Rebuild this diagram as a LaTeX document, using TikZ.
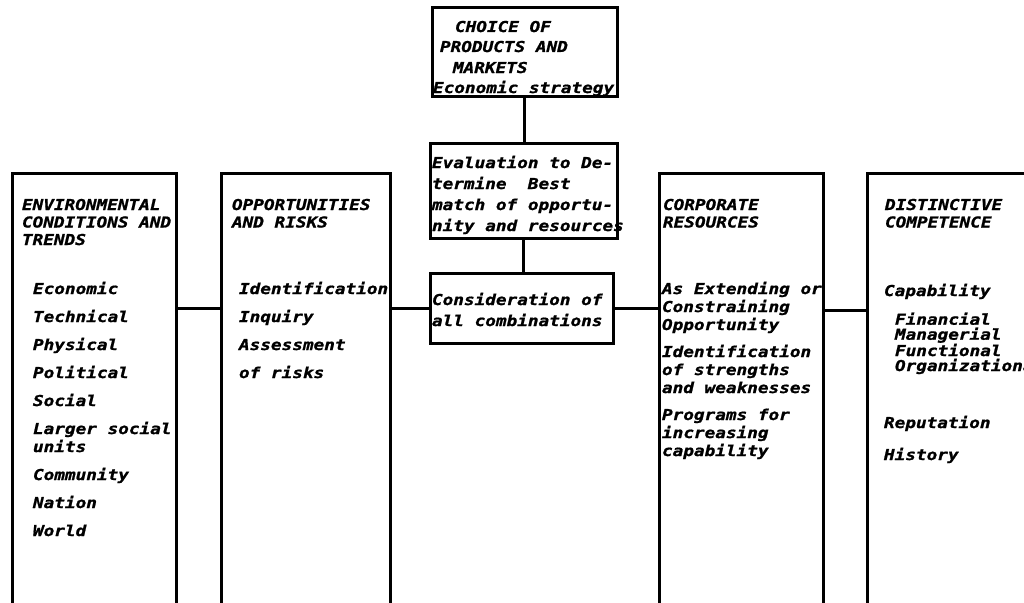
\documentclass[tikz,border=0pt]{standalone}
\usepackage{fontspec}
\newfontfamily\printfont[FakeStretch=1.18,FakeBold=1.2]{DejaVu Sans Mono Bold Oblique}
\newcommand\pfont[1]{\printfont\fontsize{15}{#1}\selectfont}
\begin{document}
\begin{tikzpicture}[x=1pt,y=-1pt,
  frame/.style={draw=black, line width=3pt, rectangle, inner sep=0pt, outer sep=0pt},
  link/.style={draw=black, line width=3pt},
  % multi-line nodes sit on the baseline of their last line
  txt/.style={anchor=base west, inner sep=0pt, outer sep=0pt, align=left, text=black},
]
\useasboundingbox (0,0) rectangle (1024,602);
\clip (0,0) rectangle (1024,602);

% central chain of boxes
\node[frame, minimum width=185, minimum height=88] (choice) at (524.5,52) {};
\node[frame, minimum width=187, minimum height=95] (eval) at (523.5,190.5) {};
\node[frame, minimum width=183, minimum height=70] (cons) at (521.5,308) {};

% open-ended columns (bottom edge lies below the page)
\node[frame, minimum width=164, minimum height=447] (env) at (94,396.5) {};
\node[frame, minimum width=169, minimum height=447] (opp) at (305.5,396.5) {};
\node[frame, minimum width=164, minimum height=447] (res) at (741,396.5) {};
\node[frame, minimum width=233, minimum height=447] (dist) at (983.5,396.5) {};

% connectors
\draw[link] (choice.south) -- (choice.south |- eval.north);
\draw[link] (eval.south) -- (eval.south |- cons.north);
\draw[link] (env.east |- cons.west) -- (opp.west |- cons.west);
\draw[link] (opp.east |- cons.west) -- (cons.west);
\draw[link] (cons.east) -- (res.west |- cons.east);
\draw[link] (res.east |- 0,310) -- (dist.west |- 0,310);

% texts of the central boxes
\node[txt, font=\pfont{20}] (choiceA) at (455,32) {CHOICE OF};
\node[txt, font=\pfont{20}] (choiceB) at (440,52) {PRODUCTS AND};
\node[txt, font=\pfont{20}] (choiceC) at (453,73) {MARKETS};
\node[txt, font=\pfont{20}] (choiceD) at (433,93) {Economic strategy};
\node[txt, font=\pfont{21}] (evaltext) at (432,231)
  {Evaluation to De-\\termine\ \ Best\\match of opportu-\\nity and resources};
\node[txt, font=\pfont{21}] (constext) at (432,326)
  {Consideration of\\all combinations};

% column headings
\node[txt, font=\pfont{17.5}] (envhead) at (22,245)
  {ENVIRONMENTAL\\CONDITIONS AND\\TRENDS};
\node[txt, font=\pfont{17.5}] (opphead) at (232,227.5)
  {OPPORTUNITIES\\AND RISKS};
\node[txt, font=\pfont{17.5}] (reshead) at (663,227.5)
  {CORPORATE\\RESOURCES};
\node[txt, font=\pfont{17.5}] (disthead) at (885,227.5)
  {DISTINCTIVE\\COMPETENCE};

% column contents
\node[txt, font=\pfont{18}] (envlist) at (33,536)
  {Economic\\[10pt]Technical\\[10pt]Physical\\[10pt]Political\\[10pt]Social\\[10pt]%
   Larger social\\units\\[10pt]Community\\[10pt]Nation\\[10pt]World};
\node[txt, font=\pfont{18}] (opplist) at (239,378)
  {Identification\\[10pt]Inquiry\\[10pt]Assessment\\[10pt]of risks};
\node[txt, font=\pfont{18}] (reslist) at (662,456)
  {As Extending or\\Constraining\\Opportunity\\[9pt]Identification\\of strengths\\%
   and weaknesses\\[9pt]Programs for\\increasing\\capability};
\node[txt, font=\pfont{18}] (distA) at (884,296) {Capability};
\node[txt, font=\pfont{15}] (distB) at (895,371)
  {Financial\\Managerial\\Functional\\Organizational};
\node[txt, font=\pfont{32}] (distC) at (884,460) {Reputation\\History};
\end{tikzpicture}
\end{document}
